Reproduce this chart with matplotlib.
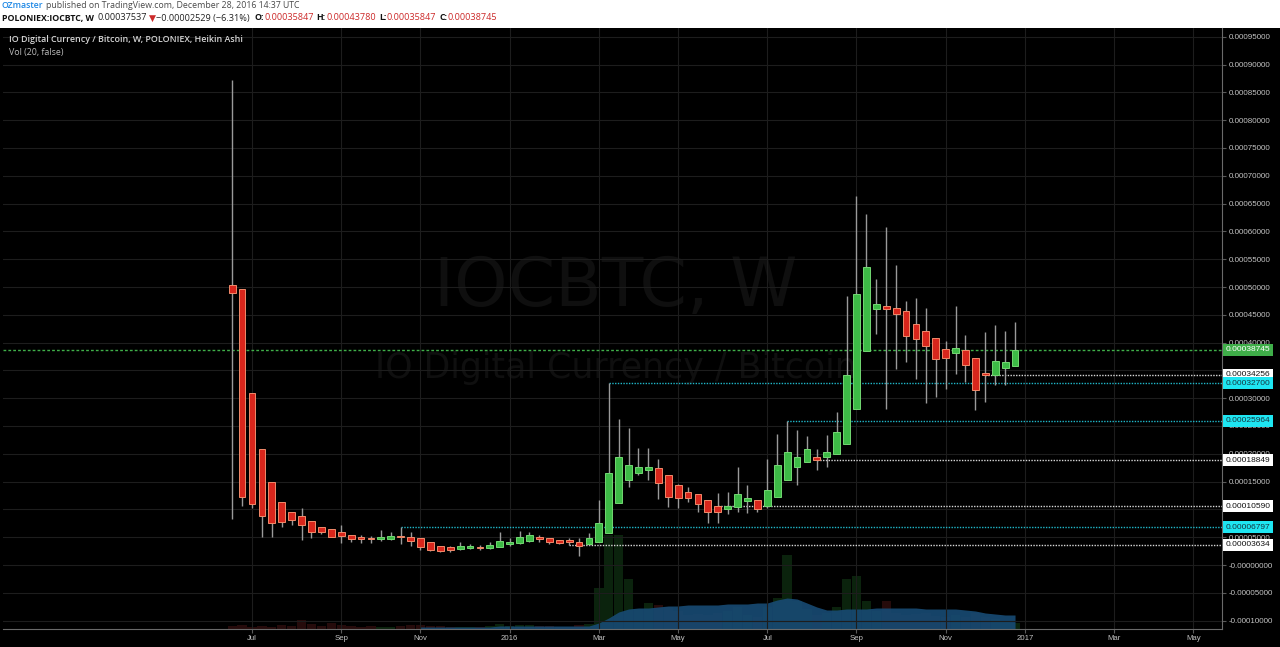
import numpy as np
import pandas as pd
import matplotlib
matplotlib.use('Agg')
import matplotlib.pyplot as plt
import matplotlib.dates as mdates
import matplotlib.transforms as mtransforms
from matplotlib.patches import Rectangle

# weekly Heikin Ashi candles, IOC/BTC on Poloniex
first_week = '2015-06-22'
opens = [0.000503, 0.000496, 0.000310, 0.000209, 0.000150, 0.000113, 0.0000951, 0.0000890, 0.0000800, 0.0000691,
         0.0000644, 0.0000590, 0.0000542, 0.0000511, 0.0000493, 0.0000469, 0.0000475, 0.0000514, 0.0000511, 0.0000482,
         0.0000410, 0.0000343, 0.0000319, 0.0000289, 0.0000301, 0.0000330, 0.0000312, 0.0000330, 0.0000374, 0.0000392,
         0.0000439, 0.0000511, 0.0000493, 0.0000451, 0.0000424, 0.0000421, 0.0000379, 0.0000421, 0.0000584, 0.000111,
         0.000153, 0.000165, 0.000170, 0.000175, 0.000161, 0.000143, 0.000132, 0.000127, 0.000117, 0.000106,
         0.000101, 0.000104, 0.000116, 0.000117, 0.000107, 0.000123, 0.000152, 0.000177, 0.000186, 0.000194,
         0.000194, 0.000199, 0.000218, 0.000280, 0.000384, 0.000460, 0.000465, 0.000463, 0.000457, 0.000434,
         0.000420, 0.000408, 0.000389, 0.000382, 0.000386, 0.000373, 0.000345, 0.000342, 0.000354, 0.00035847]
highs = [0.000872, 0.000496, 0.000310, 0.000209, 0.000150, 0.000113, 0.0000951, 0.000102, 0.0000800, 0.0000691,
         0.0000644, 0.0000722, 0.0000542, 0.0000542, 0.0000523, 0.0000632, 0.0000590, 0.0000680, 0.0000601, 0.0000482,
         0.0000410, 0.0000343, 0.0000348, 0.0000421, 0.0000374, 0.0000361, 0.0000421, 0.0000601, 0.0000493, 0.0000614,
         0.0000601, 0.0000542, 0.0000493, 0.0000451, 0.0000493, 0.0000482, 0.0000583, 0.000117, 0.000327, 0.000263,
         0.000247, 0.000211, 0.000211, 0.000191, 0.000161, 0.000146, 0.000141, 0.000127, 0.000117, 0.000129,
         0.000131, 0.000176, 0.000143, 0.000117, 0.000191, 0.000235, 0.00025964, 0.000242, 0.000232, 0.000208,
         0.000233, 0.000276, 0.000483, 0.000663, 0.000632, 0.000514, 0.000608, 0.000540, 0.000475, 0.000481,
         0.000462, 0.000408, 0.000403, 0.000466, 0.000413, 0.000373, 0.000419, 0.000432, 0.000420, 0.00043780]
lows = [0.0000825, 0.000106, 0.000102, 0.0000511, 0.0000511, 0.0000686, 0.0000722, 0.0000451, 0.0000493, 0.0000560,
        0.0000505, 0.0000392, 0.0000421, 0.0000403, 0.0000397, 0.0000433, 0.0000451, 0.0000379, 0.0000343, 0.0000271,
        0.0000253, 0.0000240, 0.0000240, 0.0000271, 0.0000283, 0.0000271, 0.0000283, 0.0000319, 0.0000343, 0.0000374,
        0.0000421, 0.0000421, 0.0000374, 0.0000374, 0.0000363, 0.0000162, 0.0000361, 0.0000421, 0.0000572, 0.000111,
        0.000140, 0.000162, 0.000153, 0.000119, 0.000105, 0.000102, 0.000114, 0.0000962, 0.0000764, 0.0000764,
        0.0000921, 0.0000962, 0.0000933, 0.0000962, 0.000102, 0.000123, 0.000152, 0.000143, 0.000186, 0.000171,
        0.000177, 0.000199, 0.000218, 0.000280, 0.000384, 0.000416, 0.000280, 0.000353, 0.000365, 0.000335,
        0.000292, 0.000303, 0.000317, 0.000343, 0.000329, 0.000278, 0.000293, 0.000323, 0.000323, 0.00035847]
closes = [0.000490, 0.000123, 0.000110, 0.0000890, 0.0000753, 0.0000771, 0.0000812, 0.0000722, 0.0000590, 0.0000590,
          0.0000511, 0.0000523, 0.0000469, 0.0000469, 0.0000464, 0.0000511, 0.0000529, 0.0000505, 0.0000439, 0.0000330,
          0.0000271, 0.0000258, 0.0000271, 0.0000343, 0.0000343, 0.0000301, 0.0000361, 0.0000439, 0.0000421, 0.0000511,
          0.0000542, 0.0000464, 0.0000410, 0.0000392, 0.0000419, 0.0000343, 0.0000482, 0.0000753, 0.000166, 0.000194,
          0.000180, 0.000176, 0.000176, 0.000147, 0.000122, 0.000120, 0.000121, 0.000110, 0.0000951, 0.0000962,
          0.000106, 0.000128, 0.000120, 0.000101, 0.000135, 0.000180, 0.000204, 0.000194, 0.000208, 0.00018849,
          0.000204, 0.000240, 0.000341, 0.000487, 0.000536, 0.000469, 0.000461, 0.000451, 0.000412, 0.000407,
          0.000394, 0.000371, 0.000373, 0.000390, 0.000360, 0.000315, 0.00034256, 0.000367, 0.000366, 0.00038745]
# volume and its 20-week average (arbitrary units)
volume = [3, 4, 2, 3, 2, 4, 3, 9, 5, 3, 6, 4, 3, 2, 3, 2, 2, 3, 4, 4,
          3, 3, 2, 2, 2, 2, 3, 5, 3, 4, 4, 3, 3, 2, 2, 4, 5, 41, 94, 94,
          50, 20, 26, 24, 22, 18, 14, 15, 14, 16, 18, 22, 14, 12, 22, 31, 74, 28, 20, 14,
          16, 22, 50, 53, 28, 18, 28, 16, 14, 15, 16, 13, 12, 14, 12, 16, 12, 10, 8, 6]
volume_ma = [2, 2, 2, 2, 2, 2, 2, 2, 3, 3, 3, 3, 3, 3, 3, 3, 3, 3, 6, 11,
             17, 20, 21, 21, 22, 23, 23, 24, 24, 24, 24, 25, 25, 25, 26, 26, 29, 31, 30, 26,
             22, 19, 19, 20, 20, 20, 21, 21, 21, 21, 21, 20, 20, 20, 20, 19, 18, 16, 15, 14, 14]

# horizontal levels drawn from a given bar to the right edge
levels = [0.00034256, 0.00032700, 0.00025964, 0.00018849, 0.00010590, 0.00006797, 0.00003634]
level_from_bar = [76, 38, 56, 59, 49, 17, 34]
level_kind = ['white', 'cyan', 'cyan', 'white', 'white', 'cyan', 'white']
last_price = 0.00038745

month_ticks = ['2015-07-06', '2015-09-07', '2015-11-02', '2016-01-04', '2016-03-07', '2016-05-02',
               '2016-07-04', '2016-09-05', '2016-11-07', '2017-01-02', '2017-03-06', '2017-05-01']
month_labels = ['Jul', 'Sep', 'Nov', '2016', 'Mar', 'May', 'Jul', 'Sep', 'Nov', '2017', 'Mar', 'May']
price_ticks = np.arange(-2, 20) * 0.00005
# axis labels that sit almost fully behind a price box
hidden_ticks = [0.00035, 0.0001]

W, H = 1280, 647
fig = plt.figure(figsize=(W / 100, H / 100), dpi=100, facecolor='black')
fig.patches.append(Rectangle((0, 1 - 28 / H), 1, 28 / H, transform=fig.transFigure,
                             facecolor='white', edgecolor='none', zorder=-5))

rect = [3 / W, (H - 629) / H, (1222 - 3) / W, (629 - 28) / H]
ax_vol = fig.add_axes(rect, zorder=0)
ax = fig.add_axes(rect, zorder=1, sharex=ax_vol)
ax.set_facecolor('none')
ax_vol.set_facecolor('black')

dates = mdates.date2num(pd.date_range(first_week, periods=len(opens), freq='7D'))
x0 = dates[0]
ax.set_xlim(x0 - 161.9, x0 + 699.2)
ax.set_ylim((565 - 629) / 556000, (565 - 28) / 556000)

# volume pane
up = np.array(closes) >= np.array(opens)
ax_vol.bar(dates, volume, width=6.6, color=np.where(up, '#0b230d', '#260b0b'), linewidth=0)
ax_vol.fill_between(dates[len(dates) - len(volume_ma):], 0, volume_ma, color='#174a72', alpha=0.92, lw=0)
ax_vol.set_ylim(0, 601)
ax_vol.axis('off')

# watermark
ax.text(0.5025, 0.537, 'IOCBTC, W', transform=ax.transAxes, ha='center', va='baseline',
        fontsize=49, color='#0f0f0f', family='DejaVu Sans', zorder=0.2)
ax.text(0.5025, 0.417, 'IO Digital Currency / Bitcoin', transform=ax.transAxes, ha='center', va='baseline',
        fontsize=25, color='#0f0f0f', family='DejaVu Sans', zorder=0.2)

# grid
ax.set_axisbelow(True)
ax.set_yticks(price_ticks)
ax.set_yticklabels(['' if np.isclose(price_ticks[i], hidden_ticks).any() else
                    ('-0.00000000' if abs(v) < 1e-12 else f'{v:.8f}')
                    for i, v in enumerate(price_ticks)])
ax.set_xticks(mdates.date2num(pd.to_datetime(month_ticks)))
ax.set_xticklabels(month_labels)
ax.grid(True, color='#1d1d1d', lw=0.8)
ax.yaxis.tick_right()
ax.tick_params(axis='y', colors='#5a5a5a', labelcolor='#c4c4c4', length=3, pad=2, labelsize=5.8)
ax.tick_params(axis='x', colors='#5a5a5a', labelcolor='#c4c4c4', length=3, pad=1.5, labelsize=5.6)
for lab in ax.get_xticklabels() + ax.get_yticklabels():
    lab.set_family('Liberation Sans')
for side in ['top', 'left']:
    ax.spines[side].set_visible(False)
ax.spines['right'].set_color('#6a6a6a')
ax.spines['bottom'].set_color('#6a6a6a')

# level lines
right_edge = ax.get_xlim()[1]
ax.axhline(last_price, color='#3fae49', lw=1, ls=(0, (2, 1.5)), zorder=2)
for lvl, start, kind in zip(levels, level_from_bar, level_kind):
    ax.hlines(lvl, dates[start], right_edge, color='#d8d8d8' if kind == 'white' else '#1fb7c9',
              lw=1, ls=(0, (1, 1)), zorder=2)

# candles
o, h, l, c = map(np.array, (opens, highs, lows, closes))
ax.vlines(dates, l, h, color='#9a9a9a', lw=1, zorder=3)
body = np.maximum(np.abs(c - o), 2.2e-6)
ax.bar(dates, body, bottom=np.minimum(o, c), width=4.8,
       color=np.where(up, '#3dba46', '#d8261c'), edgecolor=np.where(up, '#72d872', '#f28a6a'),
       linewidth=0.7, zorder=4)

# price boxes on the axis
tr = mtransforms.blended_transform_factory(ax.transAxes, ax.transData)
box_style = {'white': ('white', '#111111'), 'cyan': ('#1ee6f2', '#153540')}
ax.text(1.0032, last_price, f'{last_price:.8f}', transform=tr, ha='left', va='center', fontsize=6,
        family='Liberation Sans', color='white', zorder=6, clip_on=False,
        bbox=dict(boxstyle='square,pad=0.3', fc='#3fae49', ec='none'))
for lvl, kind in zip(levels, level_kind):
    fc, tc = box_style[kind]
    ax.text(1.0032, lvl, f'{lvl:.8f}', transform=tr, ha='left', va='center', fontsize=6,
            family='Liberation Sans', color=tc, zorder=6, clip_on=False,
            bbox=dict(boxstyle='square,pad=0.3', fc=fc, ec='none'))

# legend inside the chart
fig.text(9 / W, 1 - 40 / H, 'IO Digital Currency / Bitcoin, W, POLONIEX, Heikin Ashi', ha='left', va='center',
         fontsize=6.4, color='#d6d6d6', family='Open Sans', weight='semibold')
fig.text(9 / W, 1 - 52 / H, 'Vol (20, false)', ha='left', va='center',
         fontsize=6.4, color='#bdbdbd', family='Open Sans')


def chain(y_px, pieces, x_px=2):
    r = fig.canvas.get_renderer()
    x = x_px
    for s, gap, kw in pieces:
        t = fig.text(x / W, 1 - y_px / H, s, ha='left', va='center', **kw)
        x = t.get_window_extent(r).x1 + gap


hdr1 = dict(fontsize=6.3, family='Open Sans')
chain(6, [('OZmaster', 2, dict(color='#1e88e5', weight='semibold', **hdr1)),
          ('published on TradingView.com, December 28, 2016 14:37 UTC', 0, dict(color='#4a4a4a', **hdr1))])
red = '#cc2a2a'
hdr = dict(fontsize=6.6, family='Open Sans')
bold = dict(color='#111111', weight='bold', fontsize=6.3, family='Open Sans')
chain(18, [('POLONIEX:IOCBTC, W', 4, bold),
           ('0.00037537', 1, dict(color='#222222', **hdr)),
           ('▼', 1, dict(color=red, fontsize=6.6, family='DejaVu Sans')),
           ('\u22120.00002529 (\u22126.31%)', 4, dict(color='#222222', **hdr)),
           ('O:', 0.5, bold),
           ('0.00035847', 3, dict(color=red, **hdr)),
           ('H:', 0.5, bold),
           ('0.00043780', 3, dict(color=red, **hdr)),
           ('L:', 0.5, bold),
           ('0.00035847', 3, dict(color=red, **hdr)),
           ('C:', 0.5, bold),
           ('0.00038745', 0, dict(color=red, **hdr))])

fig.savefig('out.png', dpi=100, facecolor=fig.get_facecolor())
